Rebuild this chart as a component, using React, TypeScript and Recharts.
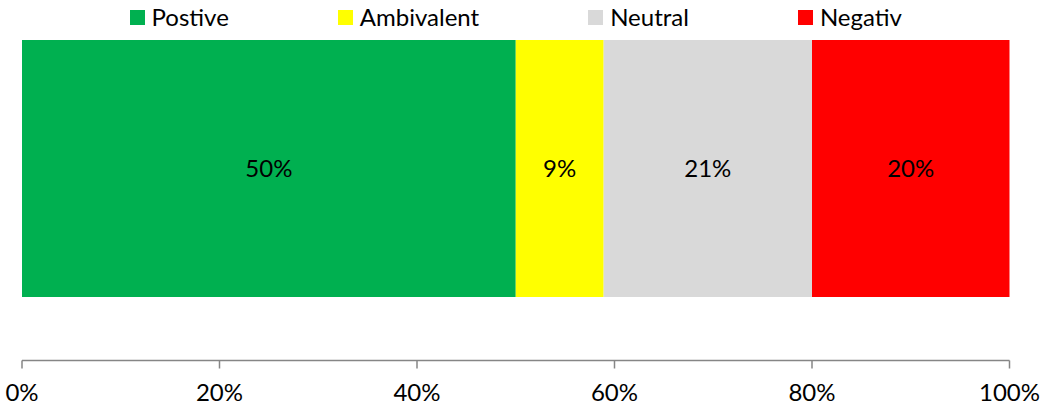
import React from "react";
import { ComposedChart, Bar, XAxis, YAxis, LabelList, Legend } from "recharts";

const categories = ["Sentiment"];
const seriesNames = ["Postive", "Ambivalent", "Neutral", "Negativ"];
const seriesKeys = ["pos", "amb", "neu", "neg"];
const positiveValues = [0.5];
const ambivalentValues = [0.089];
const neutralValues = [0.211];
const negativeValues = [0.2];
const colors = ["#00B050", "#FFFF00", "#D9D9D9", "#FF0000"];
const xTicks = [0, 0.2, 0.4, 0.6, 0.8, 1];

const data = categories.map((c, i) => ({
  name: c,
  pos: positiveValues[i],
  amb: ambivalentValues[i],
  neu: neutralValues[i],
  neg: negativeValues[i],
}));

const FONT = "Lato, 'Open Sans', sans-serif";
const pct = (v: any) => `${Math.round(Number(v) * 100)}%`;

const LegendContent = () => (
  <div
    style={{
      display: "flex",
      justifyContent: "center",
      alignItems: "center",
      gap: 109,
      fontFamily: FONT,
      fontSize: 24,
      color: "#000",
      lineHeight: "34px",
    }}
  >
    {seriesNames.map((n, i) => (
      <div key={n} style={{ display: "flex", alignItems: "center" }}>
        <span
          style={{
            display: "inline-block",
            width: 15,
            height: 15,
            background: colors[i],
            marginRight: 7,
          }}
        />
        <span>{n}</span>
      </div>
    ))}
  </div>
);

export default function App() {
  return (
    <div style={{ position: "absolute", left: 0, top: 0, width: 1042, height: 407, background: "#fff" }}>
      <ComposedChart
        width={1042}
        height={407}
        data={data}
        layout="vertical"
        margin={{ top: -23.5, right: 32.5, bottom: 0, left: 22 }}
        barCategoryGap={63.5}
      >
        <XAxis
          type="number"
          domain={[0, 1]}
          ticks={xTicks}
          tickFormatter={pct}
          axisLine={{ stroke: "#868686", strokeWidth: 1.5 }}
          tickLine={{ stroke: "#868686", strokeWidth: 1.5 }}
          tickSize={8}
          tickMargin={15}
          tick={{ fill: "#000", fontFamily: FONT, fontSize: 24 }}
          interval={0}
          height={46.5}
        />
        <YAxis type="category" dataKey="name" hide width={0} />
        <Legend
          layout="horizontal"
          verticalAlign="middle"
          align="center"
          content={<LegendContent />}
          wrapperStyle={{ top: 0, left: 22, width: 987.5, height: 34 }}
        />
        {seriesKeys.map((k, i) => (
          <Bar key={k} dataKey={k} name={seriesNames[i]} stackId="a" fill={colors[i]} isAnimationActive={false}>
            <LabelList
              dataKey={k}
              position="center"
              formatter={pct}
              style={{ fill: "#000", fontFamily: FONT, fontSize: 24 }}
            />
          </Bar>
        ))}
      </ComposedChart>
    </div>
  );
}
